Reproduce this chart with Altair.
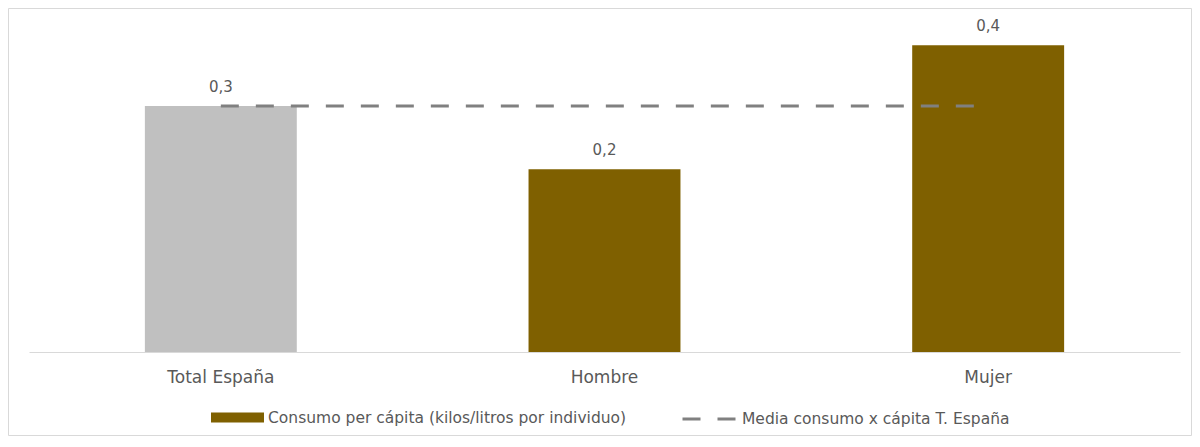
import altair as alt
import pandas as pd

categorias = ["Total España", "Hombre", "Mujer"]
consumo = [0.30, 0.223, 0.374]
media = [0.30, 0.30, 0.30]
series = ["Consumo per cápita (kilos/litros por individuo)", "Media consumo x cápita T. España"]
colores = ["#7f6000", "#808080"]
color_total = "#c0c0c0"

df_bar = pd.DataFrame({"categoria": categorias, "valor": consumo, "serie": series[0]})
df_line = pd.DataFrame({"categoria": categorias, "valor": media, "serie": series[1]})

FONT = "DejaVu Sans"
GRIS_TXT = "#595959"

x_enc = alt.X("categoria:N", sort=categorias, title=None,
              scale=alt.Scale(paddingInner=0.604, paddingOuter=0.302),
              axis=alt.Axis(labelAngle=0, ticks=False, domainColor="#d9d9d9", labelPadding=17,
                            labelFontSize=17, labelColor=GRIS_TXT, labelFont=FONT))
y_enc = alt.Y("valor:Q", title=None, scale=alt.Scale(domain=[0, 0.4], nice=False), axis=None)

leg_common = dict(orient="none", direction="horizontal", title=None,
                  labelFontSize=15.5, labelColor=GRIS_TXT, labelFont=FONT, labelLimit=600,
                  symbolSize=2809)

bars = alt.Chart(df_bar).mark_bar().encode(
    x=x_enc, y=y_enc,
    fill=alt.condition(
        alt.datum.categoria == "Total España", alt.value(color_total),
        alt.Fill("serie:N", scale=alt.Scale(domain=[series[0]], range=[colores[0]]),
                 legend=alt.Legend(legendX=182, legendY=367, symbolType="M-1,-0.19H1V0.19H-1Z",
                                   labelOffset=4, symbolOpacity=1, symbolStrokeWidth=0,
                                   **leg_common))),
)

labels = alt.Chart(df_bar).transform_calculate(
    etiqueta="replace(format(datum.valor, '.1f'), '.', ',')"
).mark_text(baseline="alphabetic", dy=-14, fontSize=15, color=GRIS_TXT, font=FONT).encode(
    x=x_enc, y=y_enc, text="etiqueta:N")

line = alt.Chart(df_line).mark_line(strokeWidth=3, color=colores[1]).encode(
    x=x_enc, y=y_enc,
    strokeDash=alt.StrokeDash("serie:N", scale=alt.Scale(domain=[series[1]], range=[[18, 17]]),
                              legend=alt.Legend(legendX=652, legendY=367, symbolType="stroke",
                                                labelOffset=5,
                                                symbolStrokeColor=colores[1], symbolStrokeWidth=3,
                                                **leg_common)))

marco = alt.Chart(pd.DataFrame({"m": [0]})).mark_rect(fill=None, stroke="#d9d9d9", strokeWidth=1).encode(
    x=alt.value(-20.5), x2=alt.value(1162.5), y=alt.value(-15.5), y2=alt.value(411.5))

chart = alt.layer(marco, bars, labels, line).properties(
    width=1151, height=328,
    padding={"left": 21, "top": 16, "right": 12, "bottom": 84},
    autosize=alt.AutoSizeParams(type="none"),
    background="white",
).configure(font=FONT).configure_view(stroke="transparent", strokeWidth=0)

chart.save("out.html", embed_options={"renderer": "svg", "actions": False})
